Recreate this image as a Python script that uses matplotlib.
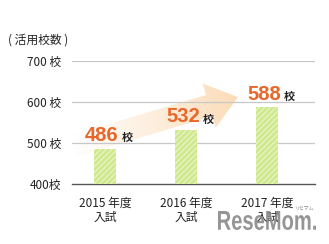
import numpy as np
import matplotlib
matplotlib.use('Agg')
import matplotlib.pyplot as plt
from matplotlib.patches import Polygon, PathPatch
from matplotlib.colors import LinearSegmentedColormap
from matplotlib.textpath import TextPath
from matplotlib.font_manager import FontProperties
from matplotlib.transforms import Affine2D

plt.rcParams['font.family'] = ['Noto Sans CJK JP', 'DejaVu Sans']

years = ['2015 年度\n入試', '2016 年度\n入試', '2017 年度\n入試']
counts = [486, 532, 588]
yticks = [400, 500, 600, 700]
ytick_labels = ['400校', '500 校', '600 校', '700 校']

fig = plt.figure(figsize=(3.29, 2.44), dpi=100)
ax = fig.add_axes([0.219, 0.246, 0.738, 0.504])

x = np.arange(len(counts))
ax.set_xlim(-0.41, 2.59)
ax.set_ylim(400, 700)

# gradient arrow behind the bars
fig.canvas.draw()
p0 = ax.transData.transform((-0.41, 492))
p1 = ax.transData.transform((1.64, 612))
d = (p1 - p0) / np.linalg.norm(p1 - p0)
n = np.array([-d[1], d[0]])
L = np.linalg.norm(p1 - p0)
bw, hw, hl = 11, 23, 30
base = p0 + d * (L - hl)
pts = [p0 + n * bw, base + n * bw, base + n * hw, p1,
       base - n * hw, base - n * bw, p0 - n * bw]
arrow = Polygon(pts, closed=True, transform=None, facecolor='none', edgecolor='none')
ax.add_patch(arrow)
cmap = LinearSegmentedColormap.from_list('fade', ['#ffffff', '#fdeedd', '#fbdcb8'])
grad = np.linspace(0, 1, 256).reshape(1, -1)
im = ax.imshow(grad, cmap=cmap, aspect='auto', extent=(-0.41, 1.64, 400, 700),
               zorder=1, interpolation='bilinear')
im.set_clip_path(arrow)
ax.set_xlim(-0.41, 2.59)
ax.set_ylim(400, 700)

ax.bar(x, [c - 400 for c in counts], bottom=400, width=0.27, color='#cfe88c',
       edgecolor='#e6f4c2', hatch='//////', linewidth=0, zorder=3)

for i, c in enumerate(counts):
    ax.text(x[i] - 0.04, c + 18, str(c), ha='center', va='baseline', fontsize=14.5,
            fontweight='bold', color='#e8672a', zorder=5, family='Liberation Sans')
    ax.text(x[i] + 0.21, c + 18, '校', ha='left', va='baseline', fontsize=8,
            fontweight='bold', color='#222222', zorder=5)

ax.set_yticks(yticks)
ax.set_yticklabels(ytick_labels, fontsize=8.5, color='#222222')
ax.set_xticks(x)
ax.set_xticklabels(years, fontsize=8.5, color='#222222', linespacing=1.1)
ax.tick_params(length=0, pad=8)
ax.tick_params(axis='x', pad=9)

for v in yticks[1:]:
    ax.axhline(v, color='#c8c8c8', linewidth=0.9, zorder=2)
for s in ['top', 'right', 'left']:
    ax.spines[s].set_visible(False)
ax.spines['bottom'].set_color('#555555')
ax.spines['bottom'].set_linewidth(1.0)

fig.text(0.025, 0.835, '( 活用校数 )', fontsize=8.5, color='#222222', ha='left', va='center')

# watermark, squeezed horizontally
tp = TextPath((0, 0), 'ReseMom.', size=20, prop=FontProperties(family='Liberation Sans', weight='bold'))
ext = tp.get_extents()
sx = 98 / ext.width
sy = 19 / ext.height
tr = Affine2D().translate(-ext.x0, -ext.y0).scale(sx, sy).translate(218, 14)
fig.patches.append(PathPatch(tr.transform_path(tp), transform=None, facecolor='#8a8a8a',
                             edgecolor='none', alpha=0.9, figure=fig))
fig.text(0.925, 0.137, 'リセマム', fontsize=3.5, color='#8a8a8a', ha='center', va='bottom')

fig.savefig('out.png', dpi=100)
